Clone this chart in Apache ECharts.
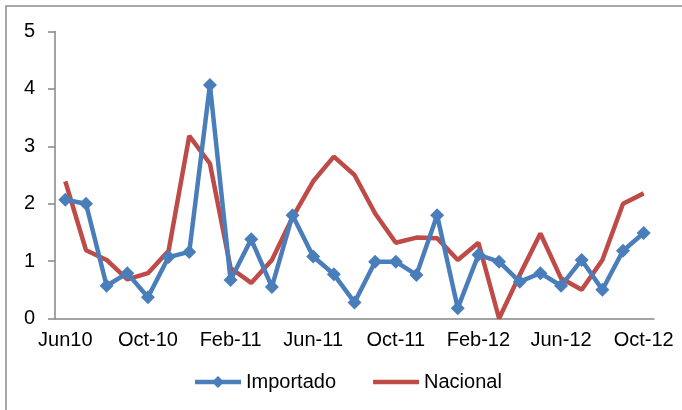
<!DOCTYPE html>
<html>
<head>
<meta charset="utf-8">
<script src="https://cdn.jsdelivr.net/npm/echarts@6/dist/echarts.min.js"></script>
<style>
html,body{margin:0;padding:0;background:#fff;}
#c{width:682px;height:410px;}
</style>
</head>
<body>
<div id="c"></div>
<script>
const categories = ["Jun10","Jul-10","Aug-10","Sep-10","Oct-10","Nov-10","Dec-10","Jan-11","Feb-11","Mar-11","Apr-11","May-11","Jun-11","Jul-11","Aug-11","Sep-11","Oct-11","Nov-11","Dec-11","Jan-12","Feb-12","Mar-12","Apr-12","May-12","Jun-12","Jul-12","Aug-12","Sep-12","Oct-12"];
const importado = [2.07,2.0,0.57,0.79,0.37,1.07,1.16,4.07,0.67,1.38,0.55,1.8,1.08,0.77,0.28,0.99,0.99,0.76,1.8,0.18,1.11,0.99,0.64,0.79,0.57,1.02,0.5,1.18,1.49];
const nacional = [2.39,1.19,1.02,0.68,0.79,1.18,3.18,2.7,0.88,0.62,1.02,1.76,2.39,2.82,2.5,1.83,1.32,1.41,1.4,1.02,1.32,0.0,0.76,1.48,0.7,0.5,1.02,2.0,2.18];
const seriesNames = ["Importado","Nacional"];

const font = '"Liberation Sans", Arial, sans-serif';
const chart = echarts.init(document.getElementById('c'), null, {renderer:'canvas'});
chart.setOption({
  animation:false,
  backgroundColor:'#fff',
  graphic:[{type:'rect',silent:true,z:-1,shape:{x:6,y:6,width:700,height:500},style:{fill:'none',stroke:'#8a8a8a',lineWidth:1.5}}],
  grid:{left:55,right:28,top:31.5,bottom:91.5,containLabel:false},
  legend:{
    data:[
      {name:seriesNames[0],icon:'path://M0,3.75H19.1L23,0L26.9,3.75H46V8.25H26.9L23,12L19.1,8.25H0Z'},
      {name:seriesNames[1],icon:'path://M0,3.75H46V8.25H0Z'}
    ],
    left:195, top:372, padding:0,
    itemGap:37, itemWidth:46, itemHeight:12,
    textStyle:{fontFamily:font,fontSize:20,color:'#000'}
  },
  xAxis:{
    type:'category', data:categories, boundaryGap:true,
    axisLine:{lineStyle:{color:'#868686',width:1.5}},
    axisTick:{interval:3,length:7,lineStyle:{color:'#868686',width:1.5}},
    axisLabel:{interval:3,margin:12,color:'#000',fontFamily:font,fontSize:20}
  },
  yAxis:{
    type:'value', min:0, max:5, interval:1,
    splitLine:{show:false},
    axisLine:{show:true,lineStyle:{color:'#868686',width:1.5}},
    axisTick:{show:true,length:7,lineStyle:{color:'#868686',width:1.5}},
    axisLabel:{margin:20,color:'#000',fontFamily:font,fontSize:20}
  },
  series:[
    {name:seriesNames[0],type:'line',data:importado,symbol:'diamond',symbolSize:14,showSymbol:true,showAllSymbol:true,
     itemStyle:{color:'#4A7EBB'},lineStyle:{color:'#4A7EBB',width:4.5},z:3},
    {name:seriesNames[1],type:'line',data:nacional,symbol:'none',showSymbol:false,
     itemStyle:{color:'#BE4B48'},lineStyle:{color:'#BE4B48',width:4.5},z:2}
  ]
});
</script>
</body>
</html>
